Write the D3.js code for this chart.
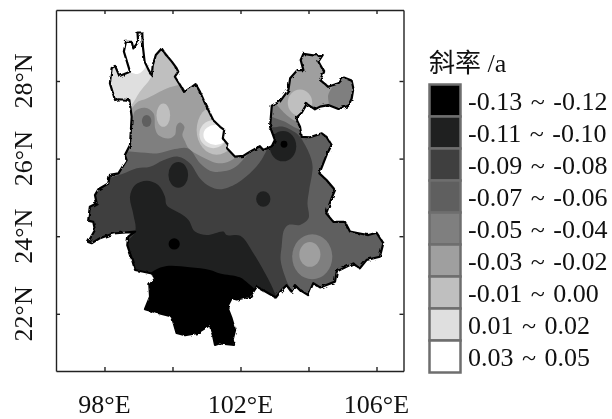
<!DOCTYPE html>
<html>
<head>
<meta charset="utf-8">
<script src="https://cdn.jsdelivr.net/npm/d3@7"></script>
<style>
body { margin: 0; background: #fff; }
text { font-family: "Liberation Serif", serif; fill: #111; }
svg { filter: blur(0.35px); }
</style>
</head>
<body>
<script>
// legend classes, darkest first
let legendLabels = ["-0.13 ~ -0.12", "-0.11 ~ -0.10", "-0.09 ~ -0.08", "-0.07 ~ -0.06", "-0.05 ~ -0.04", "-0.03 ~ -0.02", "-0.01 ~ 0.00", "0.01 ~ 0.02", "0.03 ~ 0.05"];
let classColors = ["#000000", "#1f2020", "#3f3f3f", "#5f5f5f", "#7f7f7f", "#9f9f9f", "#bfbfbf", "#dfdfdf", "#ffffff"];

let xTicks = [98, 100, 102, 104, 106];
let yTicks = [22, 24, 26, 28];
let xLabels = [98, 102, 106];
let yLabels = [22, 24, 26, 28];

// province outline, [lon, lat]
let outline = [[98.97,29.25],[99.11,29.25],[99.13,28.88],[99.18,28.50],[99.30,28.28],[99.39,28.15],[99.42,28.41],[99.51,28.67],[99.68,28.84],[99.78,28.71],[99.98,28.50],[100.12,28.33],[100.17,28.24],[100.07,28.11],[100.22,27.90],[100.34,27.72],[100.51,27.81],[100.68,27.92],[100.81,27.72],[100.96,27.42],[101.10,27.17],[101.20,26.99],[101.40,26.82],[101.52,26.74],[101.48,26.52],[101.64,26.35],[101.61,26.26],[101.84,26.05],[102.08,26.07],[102.28,26.18],[102.57,26.32],[102.67,26.22],[102.92,26.32],[103.01,26.48],[102.87,26.82],[102.92,27.36],[103.16,27.47],[103.41,27.77],[103.46,28.07],[103.67,28.28],[103.85,28.28],[103.77,28.54],[103.85,28.70],[104.14,28.66],[104.42,28.67],[104.29,28.50],[104.46,28.24],[104.34,28.03],[104.58,27.85],[104.88,27.94],[105.04,28.09],[105.27,28.01],[105.32,27.81],[105.27,27.55],[105.17,27.36],[104.88,27.28],[104.58,27.38],[104.34,27.34],[104.19,27.27],[103.95,27.41],[103.80,27.18],[103.63,27.04],[103.75,26.82],[103.80,26.56],[104.04,26.55],[104.39,26.65],[104.53,26.56],[104.68,26.35],[104.53,26.09],[104.32,25.62],[104.53,25.45],[104.78,25.19],[104.68,24.98],[104.52,24.59],[104.73,24.37],[105.07,24.37],[105.22,24.12],[105.51,24.07],[105.76,24.03],[106.00,24.09],[106.20,23.82],[106.10,23.47],[105.71,23.39],[105.51,23.17],[105.32,23.30],[104.83,23.09],[104.78,22.83],[104.34,22.68],[104.14,22.79],[103.99,22.48],[103.75,22.61],[103.60,22.74],[103.50,22.57],[103.36,22.74],[103.21,22.61],[103.04,22.42],[102.82,22.53],[102.48,22.70],[102.28,22.44],[101.89,22.37],[101.74,22.40],[101.61,22.18],[101.74,21.88],[101.84,21.58],[101.77,21.33],[101.81,21.20],[101.40,21.24],[101.25,21.20],[101.20,21.41],[101.10,21.71],[100.71,21.50],[100.37,21.45],[100.12,21.51],[99.98,21.93],[99.63,22.01],[99.19,22.12],[99.34,22.44],[99.32,22.74],[99.49,22.91],[99.39,23.04],[98.90,23.13],[98.80,23.43],[98.67,23.77],[98.70,23.99],[98.90,24.12],[98.26,24.07],[97.87,23.95],[97.62,23.82],[97.52,23.85],[97.72,24.16],[97.67,24.37],[97.52,24.40],[97.57,24.76],[97.77,24.85],[97.72,25.06],[97.82,25.21],[98.11,25.36],[98.16,25.58],[98.41,25.62],[98.65,25.96],[98.60,26.09],[98.75,26.35],[98.80,27.08],[98.73,27.51],[98.41,27.53],[98.31,27.51],[98.16,27.94],[98.21,28.33],[98.31,28.39],[98.44,28.13],[98.75,28.24],[98.57,28.76],[98.63,29.01],[98.80,29.01],[98.85,28.84],[98.99,29.01]];

// filled contour bands, painted in order over the -0.09 base
let bandBody = [[98.75,25.02],[98.90,25.32],[99.24,25.43],[99.58,25.32],[99.78,25.02],[99.83,24.80],[100.22,24.59],[100.47,24.42],[100.66,24.12],[101.01,24.03],[101.50,24.12],[101.59,24.03],[101.99,24.01],[102.38,23.56],[103.01,22.53],[103.06,22.27],[102,22],[98.6,22.6],[98.3,23.5],[98.90,24.12],[98.85,24.55]];
let bandSouth = [[98.85,22.61],[99.34,23.04],[99.49,23.13],[99.83,23.23],[100.51,23.20],[101.10,23.13],[101.40,23.04],[101.98,22.94],[102.23,22.78],[102.43,22.61],[102.52,22.27],[102.5,20.9],[98.85,20.9]];
let bandNorth3 = [[97.87,25.53],[98.50,25.60],[98.95,25.75],[99.34,25.79],[99.73,25.96],[100.17,26.05],[100.51,25.88],[100.81,25.49],[101.10,25.28],[101.40,25.21],[101.89,25.36],[102.38,25.71],[102.67,26.05],[102.82,26.39],[102.8,29.5],[98,29.5],[97.5,27]];
let bandEast3 = [[102.67,26.91],[102.92,26.81],[103.26,26.82],[103.70,26.61],[103.90,26.35],[104.04,26.09],[104.12,25.79],[104.02,25.19],[103.97,24.85],[104.00,24.46],[103.75,24.29],[103.41,24.29],[103.28,24.16],[103.21,23.73],[103.18,23.39],[103.31,22.96],[103.50,22.57],[103.70,22.23],[107,22],[107,30],[102.67,30]];
let bandNorth4 = [[98.06,26.22],[98.75,26.18],[99.34,26.14],[99.58,26.14],[100.07,26.25],[100.47,26.26],[100.81,25.88],[101.10,25.69],[101.40,25.66],[101.79,25.75],[102.08,25.98],[102.33,26.26],[102.4,27],[102.4,30],[98,30],[97.5,27]];
let bandNorth5 = [[98.41,26.82],[98.80,26.99],[98.90,27.23],[99.19,27.31],[99.44,27.17],[99.49,26.78],[99.58,26.61],[99.88,26.52],[100.07,26.61],[100.12,26.85],[100.22,26.93],[100.35,26.82],[100.29,26.61],[100.37,26.44],[100.47,26.27],[100.86,26.05],[101.35,25.88],[101.69,25.94],[101.94,26.09],[102.13,26.35],[102.2,27.5],[102,30],[98,30],[97.6,27.5]];
let bandNorth6 = [[98.55,27.12],[98.80,27.30],[98.99,27.47],[99.24,27.55],[99.83,27.81],[100.17,27.90],[100.42,27.94],[100.8,29],[98.5,29.5],[97.8,28]];
let bandNorth7 = [[98.50,27.12],[98.75,27.32],[99.04,27.72],[99.39,28.15],[99.36,28.6],[99.2,29.6],[97.8,29.6],[97.6,28]];
let bandNorth8 = [[98.63,28.28],[98.80,28.21],[98.97,28.18],[99.14,28.28],[99.26,28.46],[99.34,28.80],[99.24,29.40],[98.55,29.40]];
let bandNE4 = [[102.72,27.17],[102.92,27.08],[103.31,26.95],[103.65,26.78],[103.85,26.75],[104.2,27.0],[106,27],[106,30],[102.7,30]];
let bandNE5 = [[102.77,27.51],[103.01,27.42],[103.36,27.12],[103.63,26.97],[103.85,27.0],[104.34,27.21],[104.58,27.34],[104.58,27.64],[104.71,27.85],[104.85,27.98],[105.04,28.15],[105.12,28.45],[104.34,29.06],[102.87,29.06],[102.67,27.85]];

let bands = [[1, bandBody], [0, bandSouth], [3, bandNorth3], [3, bandEast3], [4, bandNorth4], [5, bandNorth5], [6, bandNorth6], [7, bandNorth7], [8, bandNorth8], [4, bandNE4], [5, bandNE5]];

// closed cells: class, lon, lat, half width and half height in degrees
let cells = [
  [1, 100.17, 25.58, 0.29, 0.33],
  [1, 102.67, 24.96, 0.21, 0.20],
  [1, 103.25, 26.32, 0.39, 0.39],
  [0, 103.28, 26.37, 0.10, 0.09],
  [0, 100.05, 23.80, 0.165, 0.145],
  [6, 99.73, 27.12, 0.20, 0.30],
  [3, 99.24, 26.97, 0.14, 0.155],
  [6, 103.75, 27.44, 0.36, 0.34],
  [4, 104.11, 23.47, 0.59, 0.58],
  [5, 104.04, 23.53, 0.31, 0.32],
  [6, 101.30, 26.74, 0.59, 0.64],
  [7, 101.20, 26.63, 0.41, 0.36],
  [8, 101.27, 26.61, 0.36, 0.26]
];

let width = 612;
let height = 419;
let box = {left: 56, right: 403.5, top: 10, bottom: 371};

let x = d3.scaleLinear().domain([96.574, 106.794]).range([box.left, box.right]);
let y = d3.scaleLinear().domain([20.526, 29.83]).range([box.bottom, box.top]);

let svg = d3.select("body").append("svg").attr("width", width).attr("height", height).style("display", "block");

// the printed border wobbles at pixel scale
let rough = svg.append("filter").attr("id", "rough").attr("x", "-5%").attr("y", "-5%").attr("width", "110%").attr("height", "110%");
rough.append("feTurbulence").attr("type", "fractalNoise").attr("baseFrequency", 0.22).attr("numOctaves", 2).attr("seed", 4).attr("result", "n");
rough.append("feDisplacementMap").attr("in", "SourceGraphic").attr("in2", "n").attr("scale", 3.5);

let outlinePath = d3.line().x((d) => x(d[0])).y((d) => y(d[1])).curve(d3.curveLinearClosed);
let bandPath = d3.line().x((d) => x(d[0])).y((d) => y(d[1])).curve(d3.curveCatmullRomClosed.alpha(0.5));

svg.append("clipPath").attr("id", "province").append("path").attr("d", outlinePath(outline));

let map = svg.append("g").attr("clip-path", "url(#province)");
map.append("path").attr("d", outlinePath(outline)).attr("fill", classColors[2]);

map.selectAll("path.band").data(bands).enter().append("path")
    .attr("class", "band")
    .attr("d", (d) => bandPath(d[1]))
    .attr("fill", (d) => classColors[d[0]]);

map.selectAll("ellipse").data(cells).enter().append("ellipse")
    .attr("cx", (d) => x(d[1]))
    .attr("cy", (d) => y(d[2]))
    .attr("rx", (d) => x(d[1] + d[3]) - x(d[1]))
    .attr("ry", (d) => y(d[2] - d[4]) - y(d[2]))
    .attr("fill", (d) => classColors[d[0]]);

svg.append("path").attr("d", outlinePath(outline))
    .attr("fill", "none").attr("stroke", "#000").attr("stroke-width", 2.2).attr("stroke-linejoin", "round")
    .attr("filter", "url(#rough)");

// frame with inward ticks on all sides
let axes = [
  [d3.axisBottom(x).tickValues(xTicks), 0, box.bottom],
  [d3.axisTop(x).tickValues(xTicks), 0, box.top],
  [d3.axisLeft(y).tickValues(yTicks), box.left, 0],
  [d3.axisRight(y).tickValues(yTicks), box.right, 0]
];
axes.forEach((a) => {
  let g = svg.append("g").attr("transform", "translate(" + a[1] + "," + a[2] + ")")
      .call(a[0].tickSizeInner(-4).tickSizeOuter(0).tickFormat(""));
  g.selectAll("path,line").attr("stroke", "#222").attr("stroke-width", 1.4);
});

svg.selectAll("text.xlab").data(xLabels).enter().append("text")
    .attr("class", "xlab")
    .attr("x", (d) => x(d))
    .attr("y", 413)
    .attr("text-anchor", "middle")
    .attr("font-size", 26)
    .text((d) => d + "°E");

svg.selectAll("text.ylab").data(yLabels).enter().append("text")
    .attr("class", "ylab")
    .attr("transform", (d) => "translate(32," + y(d) + ") rotate(-90)")
    .attr("text-anchor", "middle")
    .attr("font-size", 26)
    .text((d) => d + "°N");

// legend
let title = svg.append("text").attr("x", 429).attr("y", 72).attr("font-size", 26);
title.append("tspan").style("font-family", "'Noto Sans CJK SC'").text("斜率");
title.append("tspan").text(" /a");

let step = 32;
svg.selectAll("rect.swatch").data(classColors).enter().append("rect")
    .attr("class", "swatch")
    .attr("x", 429.5)
    .attr("y", (d, i) => 84.5 + i * step)
    .attr("width", 31)
    .attr("height", step)
    .attr("fill", (d) => d)
    .attr("stroke", "#6e6e6e")
    .attr("stroke-width", 2.5);

svg.selectAll("text.leg").data(legendLabels).enter().append("text")
    .attr("class", "leg")
    .attr("x", 468)
    .attr("y", (d, i) => 110 + i * step)
    .attr("font-size", 26)
    .attr("word-spacing", 2)
    .text((d) => d);
</script>
</body>
</html>
